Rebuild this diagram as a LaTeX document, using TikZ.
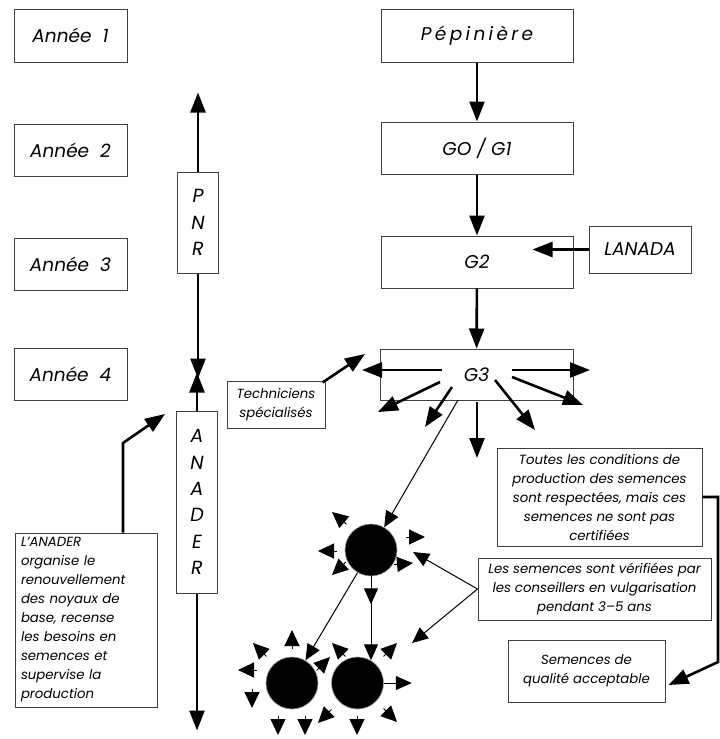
\documentclass[tikz,border=0pt]{standalone}
\usepackage{fontspec}
\setmainfont{Poppins}
\usetikzlibrary{arrows.meta,calc}
\newcommand\mybigfont{\fontsize{18.5}{22}\selectfont\itshape}
\newcommand\mysmallfont{\fontsize{13.3}{19}\selectfont\itshape}
\newcommand\minitip[3]{\draw[mini] ($(#1,#2)+(#3+180:19)$) -- (#1,#2);}
\begin{document}
\begin{tikzpicture}[x=1pt,y=-1pt,
  box/.style={draw=black!75, line width=1pt, inner sep=0pt, font=\mybigfont, align=center},
  sbox/.style={draw=black!75, line width=1pt, inner sep=0pt, font=\mysmallfont, align=center},
  vbox/.style={draw=black!75, line width=1pt, inner sep=0pt, font=\fontsize{19}{26.3}\selectfont\itshape, align=center, minimum width=41},
  arr/.style={line width=2.6pt, -{Triangle[length=20pt,width=15pt]}},
  thinarr/.style={line width=1pt, -{Triangle[length=16pt,width=14pt]}},
  mini/.style={line width=1pt, -{Triangle[length=16pt,width=15pt]}},
  dot/.style={circle, fill=black, draw=black!40, line width=0.6pt, minimum size=52, inner sep=0pt}
]
\useasboundingbox (0,0) rectangle (720,739);
% year boxes
\node[box, minimum width=113, minimum height=53] (a1) at (70.5,35.5) {Année~~1};
\node[box, minimum width=113, minimum height=52] (a2) at (70.5,150) {Année~~2};
\node[box, minimum width=113, minimum height=52] (a3) at (70.5,264) {Année~~3};
\node[box, minimum width=113, minimum height=52] (a4) at (70.5,374) {Année~~4};
% main chain
\node[box, minimum width=192, minimum height=53] (pep) at (477,35.5) {\addfontfeatures{LetterSpace=18}Pépinière};
\node[box, minimum width=192, minimum height=52] (go) at (477,148) {GO / G1};
\node[box, minimum width=192, minimum height=52] (g2) at (477,262) {G2};
\node[box, minimum width=102, minimum height=47] (lanada) at (640,249.5) {LANADA};
\node[box, minimum width=193, minimum height=51] (g3) at (476.5,374.5) {G3};
\node[sbox, minimum width=98, minimum height=47] (tech) at (276,404.5) {Techniciens\\spécialisés};
% vertical boxes
\node[vbox, minimum height=101] (pnr) at (198,222.5) {P\\N\\R};
\node[vbox, minimum height=182] (anader) at (197,502) {A\\N\\A\\D\\E\\R};
\node[sbox, minimum width=142, minimum height=174, align=left, text width=130] (lanader) at (86,620)
  {L'ANADER\\organise le\\renouvellement\\des noyaux de\\base, recense\\les besoins en\\semences et\\supervise la\\production};
% right side boxes
\node[sbox, minimum width=205, minimum height=98] (toutes) at (599.5,497)
  {Toutes les conditions de\\production des semences\\sont respectées, mais ces\\semences ne sont pas\\certifiées};
\node[sbox, minimum width=233, minimum height=62] (lessem) at (594.5,589)
  {Les semences sont vérifiées par\\les conseillers en vulgarisation\\pendant 3--5 ans};
\node[sbox, minimum width=157, minimum height=62] (semacc) at (586.5,671)
  {Semences de\\qualité acceptable};
% circles
\node[dot] (c1) at (371,550) {};
\node[dot] (c2) at (292,683) {};
\node[dot] (c3) at (357.5,683) {};
% chain arrows
\draw[arr] (pep) -- (go);
\draw[arr] (go) -- (g2);
\draw[arr] (g2) -- (g3);
\draw[arr] (lanada.west) -- ++(-56,0);
% PNR / ANADER arrows
\draw[arr] (pnr.north) -- ++(0,-79);
\draw[arr] (pnr.south) -- ++(0,105);
\draw[arr] (anader.north) -- ++(0,-38);
\draw[arr] (anader.south) -- ++(0,137);
% L'ANADER arrow
\coordinate (k1) at (123,443);
\coordinate (k2) at (165,414);
\draw[arr] (lanader.north -| k1) -- (k1) -- (k2);
% techniciens arrow
\coordinate (k3) at (365,354);
\draw[arr] ($(tech.north east)+(-3,2)$) -- (k3);
% G3 arrows
\draw[arr] ($(g3.center)+(-34.5,-4.5)$) -- ($(g3.center)+(-114.5,-4.5)$);
\draw[arr] ($(g3.center)+(35.5,-4.5)$) -- ($(g3.center)+(113.5,-4.5)$);
\draw[arr] ($(g3.center)+(-36.5,7.5)$) -- ($(g3.center)+(-98.5,37.5)$);
\draw[arr] ($(g3.center)+(-24.5,12.5)$) -- ($(g3.center)+(-51.5,52.5)$);
\draw[arr] ($(g3.center)+(0.5,27.5)$) -- ($(g3.center)+(0.5,83.5)$);
\draw[arr] ($(g3.center)+(18.5,5.5)$) -- ($(g3.center)+(58.5,55.5)$);
\draw[arr] ($(g3.center)+(35.5,2.5)$) -- ($(g3.center)+(106.5,30.5)$);
\draw[thinarr] ($(g3.center)+(-18.5,25.5)$) -- (c1);
% circle links
\draw[thinarr] (c1) -- (c2);
\draw[thinarr] (c1.south) -- ++(0,28);
\draw[thinarr] ($(c1.south)+(0,25)$) -- ++(0,59);
\draw[thinarr] (c3.east) -- ++(28,0);
% semences links
\draw[thinarr] (lessem.west) -- (413,552);
\draw[thinarr] (lessem.west) -- (412,643);
% toutes -> semacc
\coordinate (t1) at (718,662);
\draw[arr] (toutes.east) -- (toutes.east -| t1) -- (t1) -- ($(semacc.east)+(3,14)$);
% scattered arrowheads
\minitip{332}{512}{220}
\minitip{425}{537}{0}
\minitip{318}{551}{180}
\minitip{332}{575}{137}
\minitip{413}{563}{355}
\minitip{292}{630}{270}
\minitip{253}{643}{225}
\minitip{238}{670}{180}
\minitip{252}{708}{90}
\minitip{278}{735}{90}
\minitip{305}{735}{90}
\minitip{318}{723}{135}
\minitip{330}{657}{315}
\minitip{332}{643}{225}
\minitip{397}{643}{315}
\minitip{397}{722}{45}
\minitip{357}{735}{90}
\end{tikzpicture}
\end{document}
